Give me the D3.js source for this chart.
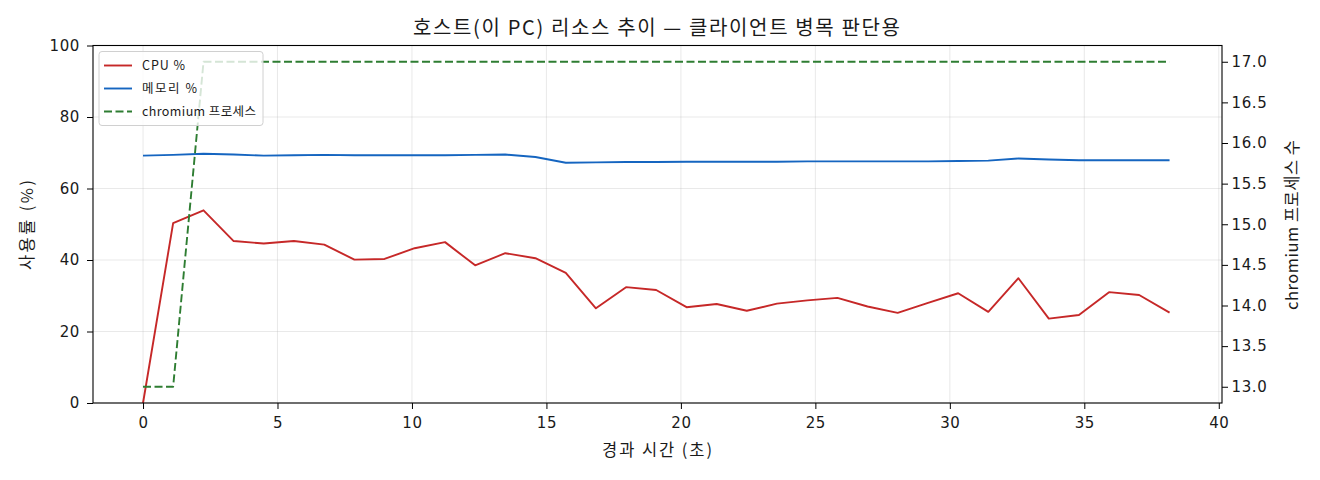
<!DOCTYPE html>
<html>
<head>
<meta charset="utf-8">
<script src="https://cdn.jsdelivr.net/npm/d3@7"></script>
<style>
  body { margin: 0; background: #fff; }
  svg text { font-family: "DejaVu Sans", "Noto Sans CJK KR", sans-serif; fill: #1a1a1a; }
  .kr { font-family: "Noto Sans CJK KR", "DejaVu Sans", sans-serif; }
</style>
</head>
<body>
<svg id="chart" width="1320" height="480"></svg>
<script>
// 경과 시간 (초)
const times = [0, 1.12, 2.25, 3.37, 4.49, 5.61, 6.74, 7.86, 8.98, 10.1, 11.23, 12.35, 13.47, 14.59,
  15.72, 16.84, 17.96, 19.08, 20.21, 21.33, 22.45, 23.57, 24.7, 25.82, 26.94, 28.06, 29.19, 30.31,
  31.43, 32.55, 33.68, 34.8, 35.92, 37.04, 38.17];
const cpu = [0, 50.3, 53.9, 45.3, 44.6, 45.3, 44.3, 40.1, 40.3, 43.3, 45.0, 38.5, 41.9, 40.5,
  36.4, 26.5, 32.4, 31.6, 26.8, 27.7, 25.8, 27.8, 28.7, 29.4, 27.0, 25.2, 28.0, 30.7,
  25.5, 34.9, 23.6, 24.6, 31.0, 30.2, 25.3];
const mem = [69.2, 69.4, 69.7, 69.5, 69.2, 69.3, 69.4, 69.3, 69.3, 69.3, 69.3, 69.4, 69.5, 68.8,
  67.2, 67.3, 67.4, 67.4, 67.5, 67.5, 67.5, 67.5, 67.6, 67.6, 67.6, 67.6, 67.6, 67.7,
  67.8, 68.4, 68.1, 67.9, 67.9, 67.9, 67.9];
const procs = [13, 13, 17, 17, 17, 17, 17, 17, 17, 17, 17, 17, 17, 17,
  17, 17, 17, 17, 17, 17, 17, 17, 17, 17, 17, 17, 17, 17,
  17, 17, 17, 17, 17, 17, 17];

const xTicks = [0, 5, 10, 15, 20, 25, 30, 35, 40];
const yTicks = [0, 20, 40, 60, 80, 100];
const y2Ticks = [13.0, 13.5, 14.0, 14.5, 15.0, 15.5, 16.0, 16.5, 17.0];

const series = [
  { name: 'CPU %', values: cpu, color: '#c62828', axis: 'left', dash: null, len: 43 },
  { name: '메모리 %', values: mem, color: '#1565c0', axis: 'left', dash: null, len: 55 },
  { name: 'chromium 프로세스', values: procs, color: '#2e7d32', axis: 'right', dash: '8,3.5', len: 114 }
];

const margin = { top: 45.5, right: 98, bottom: 77, left: 93 };
const width = 1320, height = 480;
const iw = width - margin.left - margin.right;
const ih = height - margin.top - margin.bottom;

const svg = d3.select('#chart');
const g = svg.append('g').attr('transform', `translate(${margin.left},${margin.top})`);

// 축 범위 (원본 그림 기준)
const x = d3.scaleLinear().domain([-1.86, 40.12]).range([0, iw]);
const y = d3.scaleLinear().domain([0, 100]).range([ih, 0]);
const [pMin, pMax] = d3.extent(procs);
const pPad = (pMax - pMin) * 0.05;
const y2 = d3.scaleLinear().domain([pMin - pPad, pMax + pPad]).range([ih, 0]);

// 그리드
g.append('g').selectAll('line').data(xTicks.filter(d => x(d) <= iw)).join('line')
  .attr('x1', d => x(d)).attr('x2', d => x(d)).attr('y1', 0).attr('y2', ih)
  .attr('stroke', '#b0b0b0').attr('stroke-opacity', 0.35).attr('stroke-width', 0.8);
g.append('g').selectAll('line').data(yTicks).join('line')
  .attr('x1', 0).attr('x2', iw).attr('y1', d => y(d)).attr('y2', d => y(d))
  .attr('stroke', '#b0b0b0').attr('stroke-opacity', 0.35).attr('stroke-width', 0.8);

// 라인
series.forEach(s => {
  const sc = s.axis === 'left' ? y : y2;
  const line = d3.line().x((d, i) => x(times[i])).y(d => sc(d));
  g.append('path').datum(s.values)
    .attr('fill', 'none')
    .attr('stroke', s.color)
    .attr('stroke-width', 1.9)
    .attr('stroke-dasharray', s.dash)
    .attr('stroke-linejoin', 'round')
    .attr('d', line);
});

// 축
const styleAxis = sel => {
  sel.select('.domain').remove();
  sel.selectAll('.tick line').attr('stroke', '#000').attr('stroke-width', 1);
  sel.selectAll('.tick text').style('font-size', '15px').style('letter-spacing', '0.6px').attr('fill', '#1a1a1a');
};
g.append('g').attr('transform', `translate(0,${ih})`)
  .call(d3.axisBottom(x).tickValues(xTicks).tickSize(6).tickPadding(8).tickFormat(d3.format('d')))
  .call(styleAxis);
g.append('g')
  .call(d3.axisLeft(y).tickValues(yTicks).tickSize(6).tickPadding(7).tickFormat(d3.format('d')))
  .call(styleAxis);
g.append('g').attr('transform', `translate(${iw},0)`)
  .call(d3.axisRight(y2).tickValues(y2Ticks).tickSize(6).tickPadding(3.5).tickFormat(d3.format('.1f')))
  .call(styleAxis);

// 테두리
g.append('rect').attr('width', iw).attr('height', ih)
  .attr('fill', 'none').attr('stroke', '#000').attr('stroke-width', 1.1);

// 제목, 축 제목
const label = (txt, size, len) => svg.append('text').attr('class', 'kr')
  .attr('text-anchor', 'middle').style('font-size', size + 'px')
  .attr('textLength', len).attr('lengthAdjust', 'spacing')
  .text(txt);

label('호스트(이 PC) 리소스 추이 — 클라이언트 병목 판단용', 20, 487)
  .attr('x', 656.5).attr('y', 35);
label('경과 시간 (초)', 16.5, 110)
  .attr('x', 657).attr('y', 456);
label('사용률 (%)', 16.5, 90)
  .attr('transform', `translate(33,225) rotate(-90)`);
label('chromium 프로세스 수', 16.5, 170)
  .attr('transform', `translate(1298,225) rotate(-90)`);

// 범례
const legend = g.append('g').attr('transform', 'translate(6,6)');
legend.append('rect')
  .attr('width', 164).attr('height', 74).attr('rx', 3)
  .attr('fill', '#fff').attr('fill-opacity', 0.8)
  .attr('stroke', '#d0d0d0').attr('stroke-width', 1);
series.forEach((s, i) => {
  const ly = 14 + i * 23;
  legend.append('line')
    .attr('x1', 5).attr('x2', 33).attr('y1', ly).attr('y2', ly)
    .attr('stroke', s.color).attr('stroke-width', 1.9)
    .attr('stroke-dasharray', s.dash);
  legend.append('text').attr('class', 'kr')
    .attr('x', 43).attr('y', ly + 4.5)
    .style('font-size', '12.5px')
    .attr('textLength', s.len).attr('lengthAdjust', 'spacing')
    .text(s.name);
});
</script>
</body>
</html>
